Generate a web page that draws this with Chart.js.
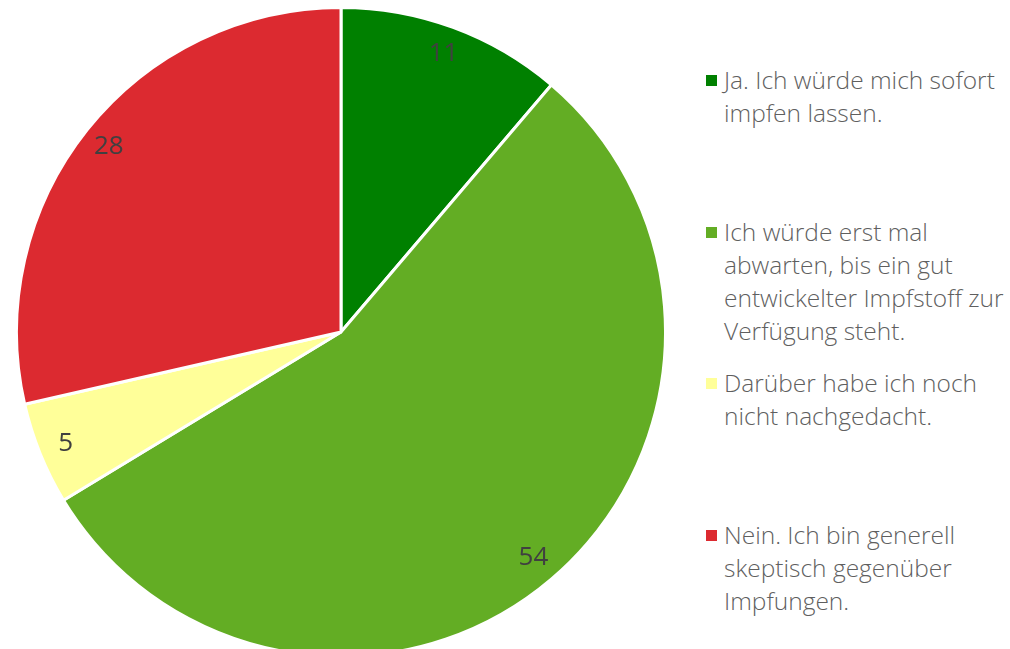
<!DOCTYPE html>
<html>
<head>
<meta charset="utf-8">
<script src="https://cdn.jsdelivr.net/npm/chart.js@4/dist/chart.umd.min.js"></script>
<style>
    html, body {
        margin: 0;
        padding: 0;
        width: 1010px;
        height: 649px;
        overflow: hidden;
        background: #ffffff;
        font-family: "Open Sans", sans-serif;
    }
    #pieWrap {
        position: absolute;
        left: 14.5px;
        top: 6px;
        width: 652px;
        height: 652px;
    }
    #legend {
        position: absolute;
        left: 704px;
        top: 0;
        width: 306px;
    }
    .legend-item {
        position: absolute;
        left: 0;
        width: 306px;
        color: #5f5f5f;
        font-size: 24.5px;
        font-weight: 300;
        line-height: 33px;
    }
    .legend-box {
        position: absolute;
        left: 2px;
        top: 12px;
        width: 11px;
        height: 11px;
    }
    .legend-text {
        margin-left: 20px;
    }
</style>
</head>
<body>
<div id="pieWrap"><canvas id="pie"></canvas></div>
<div id="legend"></div>

<script>
// Chart data
const labels = [
    'Ja. Ich würde mich sofort impfen lassen.',
    'Ich würde erst mal abwarten, bis ein gut entwickelter Impfstoff zur Verfügung steht.',
    'Darüber habe ich noch nicht nachgedacht.',
    'Nein. Ich bin generell skeptisch gegenüber Impfungen.'
];
const values = [11, 54, 5, 28];
const colors = ['#008000', '#63AD24', '#FFFF99', '#DC2A30'];

// Draw the value of each slice near its outer edge
const sliceLabels = {
    id: 'sliceLabels',
    afterDatasetsDraw(chart) {
        const ctx = chart.ctx;
        const meta = chart.getDatasetMeta(0);
        ctx.save();
        ctx.font = '26px "Open Sans", sans-serif';
        ctx.fillStyle = '#404040';
        ctx.textAlign = 'center';
        ctx.textBaseline = 'middle';
        meta.data.forEach((arc, i) => {
            const p = arc.getProps(['x', 'y', 'startAngle', 'endAngle', 'outerRadius']);
            const mid = (p.startAngle + p.endAngle) / 2;
            const r = p.outerRadius * 0.915;
            ctx.fillText(String(chart.data.datasets[0].data[i]),
                p.x + Math.cos(mid) * r, p.y + Math.sin(mid) * r);
        });
        ctx.restore();
    }
};

const chart = new Chart(document.getElementById('pie'), {
    type: 'pie',
    data: {
        labels: labels,
        datasets: [{
            data: values,
            backgroundColor: colors,
            borderColor: '#ffffff',
            borderWidth: 3
        }]
    },
    options: {
        responsive: true,
        maintainAspectRatio: false,
        animation: false,
        layout: { padding: 0 },
        plugins: {
            legend: { display: false },
            tooltip: { enabled: false }
        }
    },
    plugins: [sliceLabels]
});

// HTML legend built from the chart data
const legendEl = document.getElementById('legend');
chart.data.labels.forEach((text, i) => {
    const item = document.createElement('div');
    item.className = 'legend-item';
    item.style.top = (63 + i * 151.5) + 'px';
    const box = document.createElement('span');
    box.className = 'legend-box';
    box.style.background = chart.data.datasets[0].backgroundColor[i];
    const span = document.createElement('div');
    span.className = 'legend-text';
    span.textContent = text;
    item.appendChild(box);
    item.appendChild(span);
    legendEl.appendChild(item);
});
</script>
</body>
</html>
